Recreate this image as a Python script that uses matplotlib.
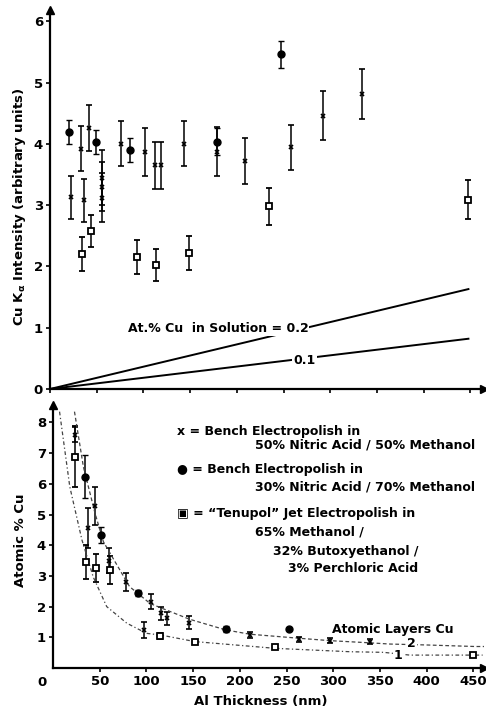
import numpy as np
import matplotlib.pyplot as plt

plt.rcParams['font.family'] = 'DejaVu Sans'
plt.rcParams['font.weight'] = 'bold'
plt.rcParams['mathtext.default'] = 'bf'

# ---- top panel: Cu K-alpha intensity vs Al thickness (nm)
# x = bench 50/50 nitric/methanol
top_x_x = [22, 33, 36, 42, 56, 56, 56, 76, 102, 112, 119, 143, 179, 209, 258, 292, 334]
top_x_y = [3.13, 3.92, 3.08, 4.26, 3.12, 3.3, 3.45, 4.0, 3.86, 3.65, 3.65, 4.0, 3.87, 3.72, 3.94, 4.46, 4.81]
top_x_e = [0.35, 0.37, 0.35, 0.38, 0.4, 0.4, 0.45, 0.37, 0.39, 0.38, 0.38, 0.37, 0.4, 0.38, 0.37, 0.4, 0.41]
# filled circle = bench 30/70
top_c_x = [20, 49, 86, 179, 247]
top_c_y = [4.19, 4.03, 3.9, 4.03, 5.46]
top_c_e = [0.2, 0.2, 0.2, 0.22, 0.22]
# square = tenupol
top_s_x = [34, 44, 93, 113, 149, 234, 448]
top_s_y = [2.2, 2.58, 2.15, 2.02, 2.22, 2.98, 3.09]
top_s_e = [0.28, 0.26, 0.28, 0.26, 0.28, 0.3, 0.32]

# solution composition lines (at.% Cu = 0.2 and 0.1)
sol_x = [0, 448]
sol_02 = [0, 1.63]
sol_01 = [0, 0.82]

# ---- bottom panel: atomic % Cu vs Al thickness
bot_x_x = [24, 38, 45, 60, 78, 97, 105, 116, 122, 146, 211, 263, 297, 339]
bot_x_y = [7.6, 4.55, 5.28, 3.5, 2.81, 1.24, 2.16, 1.78, 1.62, 1.48, 1.07, 0.94, 0.89, 0.86]
bot_x_e = [0.25, 0.65, 0.62, 0.4, 0.29, 0.27, 0.25, 0.22, 0.22, 0.2, 0.1, 0.08, 0.08, 0.08]
bot_c_x = [34, 51, 91, 185, 253]
bot_c_y = [6.23, 4.33, 2.45, 1.26, 1.26]
bot_c_e = [0.7, 0.25, 0.1, 0.1, 0.0]
bot_s_x = [24, 35, 46, 61, 115, 152, 238, 450]
bot_s_y = [6.88, 3.46, 3.25, 3.2, 1.05, 0.86, 0.67, 0.42]
bot_s_e = [1.0, 0.55, 0.45, 0.45, 0.1, 0.05, 0.05, 0.03]

# atomic layer curves
curve2_x = [23, 32.5, 45, 54, 82, 104, 146, 185, 211, 263, 297, 339, 361, 400, 452, 462]
curve2_y = [8.35, 6.56, 5.04, 4.11, 2.65, 2.1, 1.59, 1.24, 1.1, 0.97, 0.89, 0.82, 0.78, 0.75, 0.70, 0.70]
curve1_x = [7, 18, 31, 43, 57.5, 79, 100, 116, 152, 238, 318, 354, 382, 460]
curve1_y = [8.35, 5.9, 4.17, 2.97, 2.0, 1.46, 1.13, 1.07, 0.86, 0.64, 0.53, 0.51, 0.42, 0.42]

W, H = 486, 712
fig = plt.figure(figsize=(W / 100, H / 100), dpi=100)

def px_axes(l, t, r, b):
    return fig.add_axes([l / W, 1 - b / H, (r - l) / W, (b - t) / H])

ax1 = px_axes(50, 10, 484, 389)
ax2 = px_axes(53, 405, 484, 668)

eb = dict(ls='none', color='black', elinewidth=1.1, capsize=2, capthick=1.0)

ax1.errorbar(top_x_x, top_x_y, yerr=top_x_e, marker='x', ms=3, mew=1.2, **eb)
ax1.errorbar(top_c_x, top_c_y, yerr=top_c_e, marker='o', ms=5, **eb)
ax1.errorbar(top_s_x, top_s_y, yerr=top_s_e, marker='s', ms=5, mfc='white', mew=1.3, **eb)
ax1.plot(sol_x, sol_02, color='black', lw=1.4)
ax1.plot(sol_x, sol_01, color='black', lw=1.4)
ax1.text(277, 0.98, 'At.% Cu  in Solution = 0.2', ha='right', va='center',
         fontsize=9, bbox=dict(fc='white', ec='none', pad=0.5))
ax1.text(273, 0.47, '0.1', ha='center', va='center', fontsize=9,
         bbox=dict(fc='white', ec='none', pad=1.0))

ax1.set_xlim(0, 434 / 0.934)
ax1.set_ylim(0, 379 / 61.3)
ax1.set_yticks(range(0, 7))
ax1.set_xticks(range(0, 451, 50))
ax1.set_xticklabels([])

ax2.errorbar(bot_x_x, bot_x_y, yerr=bot_x_e, marker='x', ms=3, mew=1.2, **eb)
ax2.errorbar(bot_c_x, bot_c_y, yerr=bot_c_e, marker='o', ms=5, **eb)
ax2.errorbar(bot_s_x, bot_s_y, yerr=bot_s_e, marker='s', ms=5, mfc='white', mew=1.3, **eb)
ax2.plot(curve2_x, curve2_y, color='#444444', lw=0.9, ls=(0, (3, 2)))
ax2.plot(curve1_x, curve1_y, color='#444444', lw=0.9, ls=(0, (3, 2, 1, 2)))
ax2.text(384, 0.8, '2', ha='center', va='center', fontsize=9,
         bbox=dict(fc='white', ec='none', pad=0.5))
ax2.text(369, 0.4, '1', ha='center', va='center', fontsize=9,
         bbox=dict(fc='white', ec='none', pad=0.5))
ax2.set_xlim(0, 431 / 0.934)
ax2.set_ylim(0, 263 / 30.7)
ax2.set_yticks(range(1, 9))
ax2.set_xticks(range(50, 451, 50))

for ax in (ax1, ax2):
    for s in ('top', 'right'):
        ax.spines[s].set_visible(False)
    for s in ('left', 'bottom'):
        ax.spines[s].set_linewidth(1.6)
    ax.tick_params(direction='out', length=3, width=1.2, labelsize=9.5, pad=2)
    ax.plot([0], [1], marker='^', color='black', ms=6, transform=ax.transAxes, clip_on=False)
    ax.plot([1], [0], marker='>', color='black', ms=6, transform=ax.transAxes, clip_on=False)

def ftext(x, y, s, **kw):
    fig.text(x / W, 1 - y / H, s, **kw)

ftext(42, 683, '0', ha='center', va='center', fontsize=9.5)

ftext(20, 207, r'Cu K$_\alpha$ Intensity (arbitrary units)', rotation=90, ha='center', va='center', fontsize=9.5)
ftext(20, 540, 'Atomic % Cu', rotation=90, ha='center', va='center', fontsize=9.5)
ftext(261, 702, 'Al Thickness (nm)', ha='center', va='center', fontsize=9.5)

lg = dict(ha='left', va='center', fontsize=9)
ftext(177, 432, 'x = Bench Electropolish in', **lg)
ftext(255, 445, '50% Nitric Acid / 50% Methanol', **lg)
ftext(177, 469, '\u25cf = Bench Electropolish in', **lg)
ftext(255, 487, '30% Nitric Acid / 70% Methanol', **lg)
ftext(177, 513, '\u25a3 = \u201cTenupol\u201d Jet Electropolish in', **lg)
ftext(255, 532, '65% Methanol /', **lg)
ftext(273, 551, '32% Butoxyethanol /', **lg)
ftext(288, 568, '3% Perchloric Acid', **lg)
ftext(332, 629, 'Atomic Layers Cu', **lg)

fig.savefig('out.png', dpi=100)
